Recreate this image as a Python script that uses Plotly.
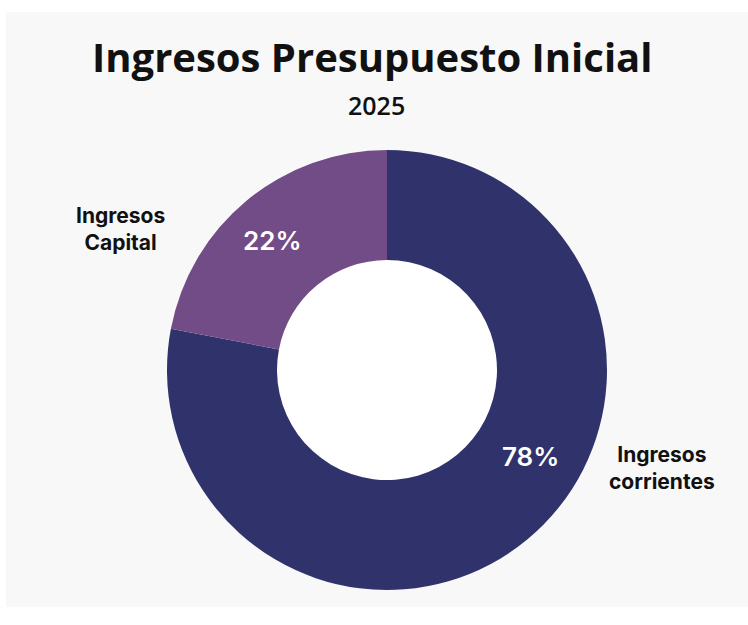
import plotly.graph_objects as go

# Budget revenue composition (slices drawn clockwise from 12 o'clock)
categories = ["Ingresos corrientes", "Ingresos Capital"]
shares = [78, 22]
slice_colors = ["#30336b", "#724c86"]
label_texts = ["Ingresos<br>corrientes", "Ingresos<br>Capital"]

W, H = 748, 625
cx, cy, R = 387, 370, 220  # donut centre and radius in pixels


def px_x(x):
    return x / W


def px_y(y):
    return 1 - y / H


fig = go.Figure(
    go.Pie(
        labels=categories,
        values=shares,
        sort=False,
        direction="clockwise",
        rotation=0,
        hole=0.5,
        marker=dict(colors=slice_colors, line=dict(width=0)),
        textinfo="none",
        hoverinfo="label+percent",
        showlegend=False,
        domain=dict(x=[px_x(cx - R), px_x(cx + R)], y=[px_y(cy + R), px_y(cy - R)]),
    )
)

shapes = [
    # light grey panel behind the chart
    dict(type="rect", xref="paper", yref="paper",
         x0=px_x(6), x1=1, y0=px_y(607), y1=px_y(12),
         fillcolor="#f8f8f8", line=dict(width=0), layer="below"),
    # white centre of the donut
    dict(type="circle", xref="paper", yref="paper",
         xsizemode="pixel", ysizemode="pixel",
         xanchor=px_x(cx), yanchor=px_y(cy),
         x0=-R * 0.5, x1=R * 0.5, y0=-R * 0.5, y1=R * 0.5,
         fillcolor="#ffffff", line=dict(width=0), layer="below"),
]

annotations = [
    dict(text="Ingresos Presupuesto Inicial", x=px_x(372), y=px_y(56),
         font=dict(family="Open Sans", size=40, color="#111111", weight=700)),
    dict(text="2025", x=px_x(376), y=px_y(105),
         font=dict(family="Open Sans", size=25, color="#111111", weight=600)),
    dict(text=label_texts[1], x=px_x(120), y=px_y(229),
         font=dict(family="Inter", size=21, color="#111111", weight=700)),
    dict(text=label_texts[0], x=px_x(662), y=px_y(468),
         font=dict(family="Inter", size=21, color="#111111", weight=700)),
    dict(text=f"{shares[1]}%", x=px_x(272), y=px_y(240),
         font=dict(family="Inter", size=26, color="#ffffff", weight=600)),
    dict(text=f"{shares[0]}%", x=px_x(530), y=px_y(456),
         font=dict(family="Inter", size=26, color="#ffffff", weight=600)),
]
for a in annotations:
    a.update(xref="paper", yref="paper", xanchor="center", yanchor="middle",
             showarrow=False, align="center")

fig.update_layout(
    width=W, height=H,
    margin=dict(l=0, r=0, t=0, b=0),
    paper_bgcolor="#ffffff",
    plot_bgcolor="#ffffff",
    shapes=shapes,
    annotations=annotations,
)

fig.write_html("out.html")
